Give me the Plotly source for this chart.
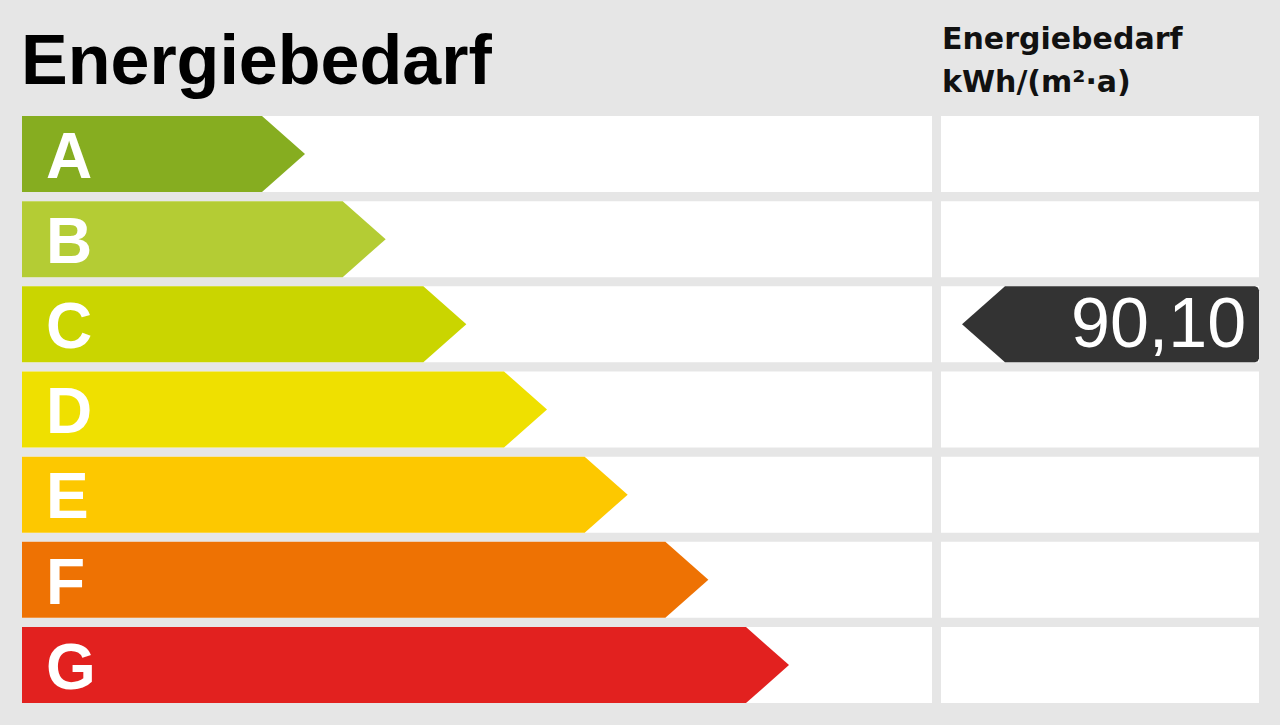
import plotly.graph_objects as go

# ---- data ----
classes = ["A", "B", "C", "D", "E", "F", "G"]
class_colors = ["#86ad20", "#b4cc34", "#cad500", "#efe000", "#fdc800", "#ee7203", "#e2211f"]
value = 90.10
value_class = "C"
title_text = "Energiebedarf"
header_line1 = "Energiebedarf"
header_line2 = "kWh/(m²·a)"

# ---- layout constants (pixels on x, row units on y) ----
W, H = 1280, 725
row_pitch = 85.17
row_top_center = 154.0
h = 38.0 / row_pitch          # half row height in row units
x_left0, x_left1 = 22, 932
x_right0, x_right1 = 941, 1259
first_tip, tip_step, tip_depth = 305, 80.67, 43
marker_tip, marker_depth = 962, 43
bg = "#e6e6e6"

y_top = -row_top_center / row_pitch
y_bot = (H - row_top_center) / row_pitch

def py(px):
    return 1 - px / H

fig = go.Figure()
shapes = []
for i, c in enumerate(classes):
    shapes.append(dict(type="rect", xref="x", yref="y", x0=x_left0, x1=x_left1,
                       y0=i - h, y1=i + h, fillcolor="white", line=dict(width=0), layer="below"))
    shapes.append(dict(type="rect", xref="x", yref="y", x0=x_right0, x1=x_right1,
                       y0=i - h, y1=i + h, fillcolor="white", line=dict(width=0), layer="below"))

annotations = []
for i, (c, col) in enumerate(zip(classes, class_colors)):
    tip = first_tip + i * tip_step
    xs = [x_left0, tip - tip_depth, tip, tip - tip_depth, x_left0, x_left0]
    ys = [i - h, i - h, i, i + h, i + h, i - h]
    fig.add_trace(go.Scatter(x=xs, y=ys, fill="toself", fillcolor=col, mode="lines",
                             line=dict(width=0, color=col), hoverinfo="skip", showlegend=False))
    annotations.append(dict(x=44, y=i + 0.02, xref="x", yref="y", text=c, showarrow=False,
                            xanchor="left", yanchor="middle",
                            font=dict(family="Liberation Sans", size=64, color="white", weight="bold")))

# value marker
vi = classes.index(value_class)
r = 4
ry = r / row_pitch
mx = [marker_tip, marker_tip + marker_depth, x_right1 - r, x_right1 - r * 0.3, x_right1,
      x_right1, x_right1 - r * 0.3, x_right1 - r, marker_tip + marker_depth, marker_tip]
my = [vi, vi - h, vi - h, vi - h + ry * 0.3, vi - h + ry,
      vi + h - ry, vi + h - ry * 0.3, vi + h, vi + h, vi]
fig.add_trace(go.Scatter(x=mx, y=my, fill="toself", fillcolor="#333333", mode="lines",
                         line=dict(width=0, color="#333333"), hoverinfo="skip", showlegend=False))
annotations.append(dict(x=1248, y=vi - 0.01, xref="x", yref="y",
                        text=f"{value:.2f}".replace(".", ","), showarrow=False,
                        xanchor="right", yanchor="middle",
                        font=dict(family="Liberation Sans", size=70, color="white")))

# headers
annotations.append(dict(x=19 / W, y=py(60), xref="paper", yref="paper", text=title_text,
                        showarrow=False, xanchor="left", yanchor="middle",
                        font=dict(family="Liberation Sans", size=70, color="black", weight="bold")))
annotations.append(dict(x=940 / W, y=py(39), xref="paper", yref="paper", text=header_line1,
                        showarrow=False, xanchor="left", yanchor="middle",
                        font=dict(family="DejaVu Sans", size=30, color="#111111", weight="bold")))
annotations.append(dict(x=940 / W, y=py(81), xref="paper", yref="paper", text=header_line2,
                        showarrow=False, xanchor="left", yanchor="middle",
                        font=dict(family="DejaVu Sans", size=30, color="#111111", weight="bold")))

fig.update_layout(
    width=W, height=H, margin=dict(l=0, r=0, t=0, b=0),
    paper_bgcolor=bg, plot_bgcolor=bg,
    xaxis=dict(range=[0, W], visible=False, fixedrange=True),
    yaxis=dict(range=[y_bot, y_top], visible=False, fixedrange=True),
    shapes=shapes, annotations=annotations, showlegend=False,
)
fig.write_html("out.html", config={"displayModeBar": False},
               post_script="document.body.style.margin='0';document.body.style.overflow='hidden';")
